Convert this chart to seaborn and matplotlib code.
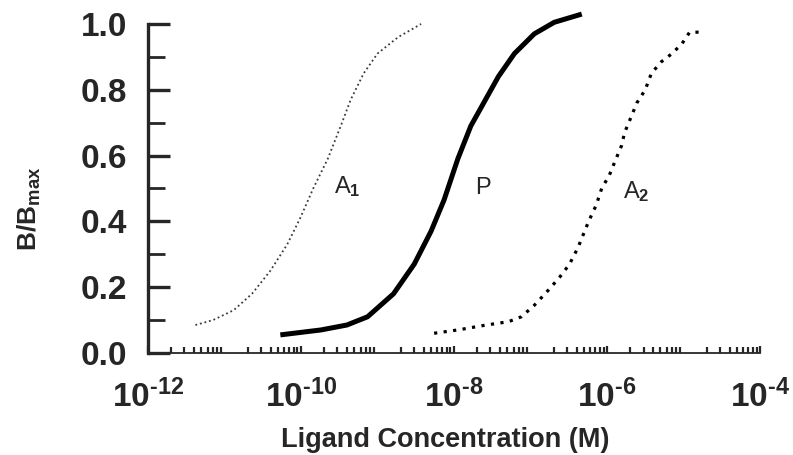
import numpy as np
import pandas as pd
import matplotlib
matplotlib.use("Agg")
import matplotlib.pyplot as plt
import seaborn as sns
from matplotlib.ticker import FixedLocator, LogLocator, NullFormatter

# ---- data (log10 concentration, B/Bmax) ----
a1_logx = [-11.38, -11.15, -10.88, -10.64, -10.40, -10.18, -10.01, -9.84,
           -9.65, -9.48, -9.35, -9.18, -9.00, -8.73, -8.43]
a1_y = [0.085, 0.10, 0.13, 0.18, 0.25, 0.33, 0.41, 0.50,
        0.59, 0.69, 0.77, 0.85, 0.91, 0.96, 1.00]

p_logx = [-10.27, -9.74, -9.40, -9.13, -8.79, -8.52, -8.30, -8.13, -7.95,
          -7.78, -7.60, -7.42, -7.21, -6.95, -6.69, -6.33]
p_y = [0.055, 0.07, 0.085, 0.11, 0.18, 0.27, 0.37, 0.465, 0.59,
       0.69, 0.765, 0.84, 0.91, 0.97, 1.005, 1.03]

a2_logx = [-8.26, -7.95, -7.58, -7.29, -7.12, -6.95, -6.77, -6.62, -6.49,
           -6.38, -6.24, -6.14, -6.07, -5.97, -5.90, -5.81, -5.77, -5.68,
           -5.61, -5.50, -5.42, -5.29, -5.15, -5.02, -4.92, -4.79]
a2_y = [0.06, 0.07, 0.085, 0.095, 0.11, 0.145, 0.19, 0.23, 0.27,
        0.32, 0.40, 0.45, 0.50, 0.54, 0.58, 0.63, 0.67, 0.72,
        0.76, 0.80, 0.85, 0.885, 0.91, 0.94, 0.975, 0.975]

curve_labels = ["A$_1$", "P", "A$_2$"]
label_logx = [-9.40, -7.62, -5.62]
label_y = [0.505, 0.50, 0.49]

xtick_exponents = [-12, -10, -8, -6, -4]
ytick_values = [0.0, 0.2, 0.4, 0.6, 0.8, 1.0]
ytick_labels = ["0.0", "0.2", "0.4", "0.6", "0.8", "1.0"]
x_label = "Ligand Concentration (M)"
y_label = r"B/B$_{\mathregular{max}}$"

# ---- style ----
sns.set_theme(style="ticks")
plt.rcParams["font.family"] = ["Liberation Sans", "DejaVu Sans"]
plt.rcParams["font.weight"] = "bold"
plt.rcParams["axes.labelweight"] = "bold"
plt.rcParams["mathtext.fontset"] = "custom"
plt.rcParams["mathtext.rm"] = "Liberation Sans:bold"
plt.rcParams["mathtext.it"] = "Liberation Sans:bold"
plt.rcParams["mathtext.bf"] = "Liberation Sans:bold"
plt.rcParams["mathtext.default"] = "rm"

fig = plt.figure(figsize=(7.93, 4.55), dpi=100)
ax = fig.add_axes([0.1866, 0.2242, 0.7718, 0.7593])

df = pd.concat([
    pd.DataFrame({"conc": 10.0 ** np.array(a1_logx), "bb": a1_y, "curve": "A1"}),
    pd.DataFrame({"conc": 10.0 ** np.array(p_logx), "bb": p_y, "curve": "P"}),
    pd.DataFrame({"conc": 10.0 ** np.array(a2_logx), "bb": a2_y, "curve": "A2"}),
])

sns.lineplot(data=df[df.curve == "A1"], x="conc", y="bb", ax=ax, color="#3a3a3a",
             lw=1.3, linestyle=(0, (1, 1.6)), estimator=None, sort=False, legend=False)
sns.lineplot(data=df[df.curve == "P"], x="conc", y="bb", ax=ax, color="black",
             lw=3.6, estimator=None, sort=False, legend=False, solid_capstyle="butt")
sns.lineplot(data=df[df.curve == "A2"], x="conc", y="bb", ax=ax, color="black",
             lw=2.3, linestyle=(0, (1, 2.0)), estimator=None, sort=False, legend=False)

for t, lx, ly in zip(curve_labels, label_logx, label_y):
    ax.text(10.0 ** lx, ly, t, fontsize=17, fontweight="normal",
            family=["Liberation Sans"], ha="center", va="center")

ax.set_xscale("log")
ax.set_xlim(1e-12, 1e-4)
ax.set_ylim(0, 1.05)

ax.xaxis.set_major_locator(FixedLocator([10.0 ** e for e in xtick_exponents]))
ax.set_xticklabels([r"$10^{\text{%d}}$" % e for e in xtick_exponents])
ax.xaxis.set_minor_locator(LogLocator(base=10, subs=np.arange(2, 10), numticks=20))
ax.xaxis.set_minor_formatter(NullFormatter())

ax.set_yticks(ytick_values)
ax.set_yticklabels(ytick_labels)
ax.yaxis.set_minor_locator(FixedLocator([0.1, 0.3, 0.5, 0.7, 0.9]))

sns.despine(ax=ax)
ax.spines["left"].set_bounds(0, 1.0)
ax.spines["left"].set_linewidth(2.4)
ax.spines["bottom"].set_linewidth(1.3)

ax.tick_params(axis="y", which="major", direction="in", length=16, width=2.4,
               labelsize=24, pad=15)
ax.tick_params(axis="y", which="minor", direction="in", length=12, width=2.0)
ax.tick_params(axis="x", which="major", direction="in", length=5, width=1.6,
               labelsize=24, pad=19)
ax.tick_params(axis="x", which="minor", direction="in", length=4, width=1.6)

ax.set_xlabel(x_label, fontsize=19.5, fontweight="bold")
ax.set_ylabel(y_label, fontsize=19, fontweight="bold")
ax.xaxis.set_label_coords(0.486, -0.215)
ax.yaxis.set_label_coords(-0.172, 0.417)

fig.savefig("out.png", dpi=100)
